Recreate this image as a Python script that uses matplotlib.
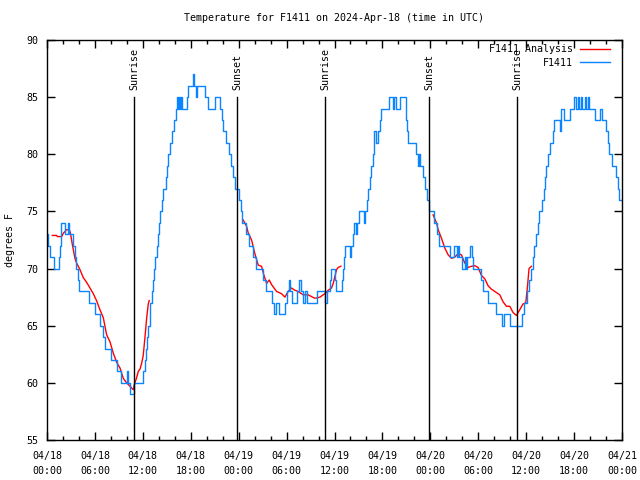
"""
Temperature for F1411 on 2024-Apr-18 (gnuplot style recreation)
"""
from datetime import datetime, timedelta
import matplotlib
matplotlib.use("Agg")
import matplotlib.pyplot as plt

inicio = datetime(2024, 4, 18, 0, 0)

# F1411 observado: (hora desde 04/18 00:00 UTC, graus F) nos pontos de mudanca
obs_h = [0.0, 0.15, 0.4, 0.9, 1.45, 1.6, 1.7, 1.8, 2.3, 2.6, 2.75, 3.25, 3.45, 3.65, 3.85,
         4.05, 5.3, 5.95, 6.65, 6.95, 7.2, 8.0, 8.75, 9.3, 10.05, 10.2, 10.45, 10.85,
         12.05, 12.25, 12.4, 12.55, 12.7, 12.85, 12.95, 13.1, 13.25, 13.45, 13.55, 13.75,
         13.85, 14.0, 14.15, 14.35, 14.5, 14.95, 15.05, 15.2, 15.4, 15.7, 15.95, 16.15,
         16.3, 16.45, 16.55, 16.65, 16.75, 16.9, 17.55, 17.7, 18.25, 18.45, 18.6, 18.75,
         19.75, 20.2, 21.05, 21.7, 21.95, 22.05, 22.4, 22.75, 23.0, 23.3, 23.6, 24.1,
         24.3, 24.45, 24.9, 25.35, 25.75, 26.15, 27.0, 27.45, 28.2, 28.45, 28.7, 29.0,
         29.8, 30.05, 30.25, 30.45, 30.7, 31.35, 31.6, 31.8, 32.1, 32.35, 32.55, 33.8,
         34.85, 35.0, 35.4, 35.6, 36.0, 36.15, 36.95, 37.05, 37.2, 37.35, 37.9, 38.1,
         38.35, 38.5, 38.65, 38.85, 39.1, 39.65, 39.85, 40.05, 40.25, 40.4, 40.6, 40.8,
         41.0, 41.15, 41.4, 41.65, 41.85, 42.8, 43.3, 43.5, 43.7, 44.2, 44.95, 45.1,
         45.25, 46.2, 46.4, 46.6, 46.75, 47.05, 47.3, 47.6, 47.85, 48.4, 48.85, 49.1,
         50.45, 50.95, 51.3, 51.45, 51.6, 52.0, 52.3, 52.5, 52.65, 52.95, 53.2, 53.4,
         54.3, 54.55, 55.25, 56.25, 57.0, 57.2, 58.0, 59.45, 59.7, 60.1, 60.4, 60.55,
         60.8, 61.0, 61.25, 61.45, 61.65, 61.95, 62.2, 62.3, 62.5, 62.7, 62.95, 63.3,
         63.5, 64.25, 64.35, 64.75, 65.5, 66.0, 66.25, 66.45, 66.6, 66.85, 67.0, 67.4,
         67.55, 67.7, 67.85, 68.65, 69.25, 69.45, 70.0, 70.2, 70.4, 70.8, 71.3, 71.45,
         71.65, 72.0]
obs_t = [73, 72, 71, 70, 71, 72, 73, 74, 73, 74, 73, 72, 71, 70, 69,
         68, 67, 66, 65, 64, 63, 62, 61, 60, 61, 60, 59, 60,
         61, 62, 63, 64, 65, 66, 67, 68, 69, 70, 71, 72,
         73, 74, 75, 76, 77, 78, 79, 80, 81, 82, 83, 84,
         85, 84, 85, 84, 85, 84, 85, 86, 87, 86, 85, 86,
         85, 84, 85, 84, 83, 82, 81, 80, 79, 78, 77, 76,
         75, 74, 73, 72, 71, 70, 69, 68, 67, 66, 67, 66,
         67, 68, 69, 68, 67, 68, 69, 68, 67, 68, 67, 68,
         67, 68, 69, 70, 69, 68, 69, 70, 71, 72, 71, 72,
         73, 74, 73, 74, 75, 74, 75, 76, 77, 78, 79, 80,
         82, 81, 82, 83, 84, 85, 84, 85, 84, 85, 83, 82,
         81, 80, 79, 80, 79, 78, 77, 76, 75, 74, 73, 72,
         71, 72, 71, 72, 71, 70, 71, 70, 71, 72, 71, 70,
         69, 68, 67, 66, 65, 66, 65, 66, 67, 68, 69, 70,
         71, 72, 73, 74, 75, 76, 77, 78, 79, 80, 81, 82,
         83, 82, 84, 83, 84, 85, 84, 85, 84, 85, 84, 85,
         84, 85, 84, 83, 84, 83, 82, 81, 80, 79, 78, 77,
         76, 76]

# F1411 Analysis: tres trechos (perto do nascer/por do sol)
ana1_h = [0.66, 1.2, 1.3, 1.84, 2.05, 2.46, 2.8, 2.96, 3.2, 3.5, 3.7, 4.13, 4.55, 4.96,
          5.38, 5.8, 6.2, 6.63, 7.05, 7.47, 7.88, 8.3, 8.72, 9.14, 9.55, 9.97, 10.4,
          10.8, 11.0, 11.2, 11.43, 11.64, 11.85, 12.05, 12.27, 12.47, 12.68, 12.8]
ana1_t = [72.9, 72.9, 72.8, 72.8, 73.1, 73.4, 73.4, 73.0, 72.0, 70.9, 70.5, 69.9, 69.2, 68.8,
          68.3, 67.8, 67.2, 66.4, 65.7, 64.2, 63.6, 62.6, 61.8, 61.3, 60.4, 60.0, 59.7,
          59.4, 60.0, 60.4, 61.0, 61.2, 61.7, 62.4, 64.0, 65.6, 66.9, 67.2]
ana2_h = [24.57, 24.99, 25.2, 25.62, 26.03, 26.45, 26.87, 27.08, 27.5, 27.83, 28.12, 28.74,
          29.37, 29.79, 30.2, 30.62, 31.04, 31.45, 32.08, 32.7, 33.54, 34.17, 34.79, 35.2,
          35.63, 35.84, 36.05, 36.25, 36.46, 36.8]
ana2_t = [74.25, 73.7, 73.1, 72.5, 71.3, 70.3, 70.2, 69.6, 68.7, 69.0, 68.6, 68.0,
          67.8, 67.5, 68.0, 68.3, 68.1, 68.0, 67.7, 67.7, 67.4, 67.5, 67.8, 68.1,
          68.3, 68.7, 69.3, 69.9, 70.1, 70.2]
ana3_h = [48.35, 48.77, 48.98, 49.4, 49.81, 50.23, 50.65, 51.06, 51.48, 51.9, 52.3, 52.73,
          53.15, 53.57, 53.98, 54.4, 54.82, 55.23, 55.65, 56.07, 56.7, 57.1, 57.53, 57.95,
          58.36, 58.78, 59.2, 59.6, 59.95, 60.16, 60.36, 60.66]
ana3_t = [74.7, 74.0, 73.4, 72.65, 71.8, 71.2, 70.9, 71.0, 71.3, 71.2, 70.5, 70.1,
          70.2, 70.25, 70.1, 69.4, 69.1, 68.5, 68.2, 68.0, 67.7, 67.1, 66.7, 66.7,
          66.15, 65.9, 66.4, 66.9, 67.0, 68.4, 70.0, 70.2]

eventos = ["Sunrise", "Sunset", "Sunrise", "Sunset", "Sunrise"]
eventos_h = [10.9, 23.82, 34.84, 47.85, 58.87]

TAM = 7.2
plt.rcParams["font.family"] = "DejaVu Sans Mono"
plt.rcParams["font.size"] = TAM

fig = plt.figure(figsize=(6.4, 4.8), dpi=100)
ax = fig.add_axes([47 / 640, 40 / 480, 575 / 640, 400 / 480])

for i, (h, t) in enumerate([(ana1_h, ana1_t), (ana2_h, ana2_t), (ana3_h, ana3_t)]):
    ax.plot(h, t, color="#ff0000", lw=1, label="F1411 Analysis" if i == 0 else None)
ax.plot(obs_h, obs_t, color="#0a84ff", lw=1, drawstyle="steps-post", label="F1411")

for nome, h in zip(eventos, eventos_h):
    ax.plot([h, h], [55, 85], color="black", lw=1)
    ax.text(h, 85.6, nome, rotation=90, ha="center", va="bottom", fontsize=TAM)

ax.set_xlim(0, 72)
ax.set_ylim(55, 90)
ax.set_yticks(range(55, 91, 5))
marcas = list(range(0, 73, 6))
ax.set_xticks(marcas)
ax.set_xticklabels([(inicio + timedelta(hours=h)).strftime("%m/%d\n%H:%M") for h in marcas])
for rot in ax.get_xticklabels():
    rot.set_linespacing(1.55)
ax.set_xticks(range(0, 73, 2), minor=True)
ax.tick_params(direction="in", which="both", top=True, right=True, width=1)
ax.tick_params(which="major", length=6)
ax.tick_params(which="minor", length=3)
ax.tick_params(axis="x", pad=8)
ax.tick_params(axis="y", pad=6)
for s in ax.spines.values():
    s.set_linewidth(1)

# titulo centrado sobre a area do grafico (como no gnuplot)
ax.text(0.5, 1 + 22 / 400, "Temperature for F1411 on 2024-Apr-18 (time in UTC)",
        transform=ax.transAxes, ha="center", va="center", fontsize=TAM)
fig.text(10 / 640, 0.5, "degrees F", rotation=90, ha="center", va="center", fontsize=TAM)

ax.legend(loc="upper right", bbox_to_anchor=(0.99, 1.005), frameon=False, markerfirst=False,
          handlelength=3.0, handletextpad=0.7, labelspacing=0.35, borderaxespad=0.2,
          fontsize=TAM)

fig.savefig("out.png", dpi=100)
plt.close(fig)
